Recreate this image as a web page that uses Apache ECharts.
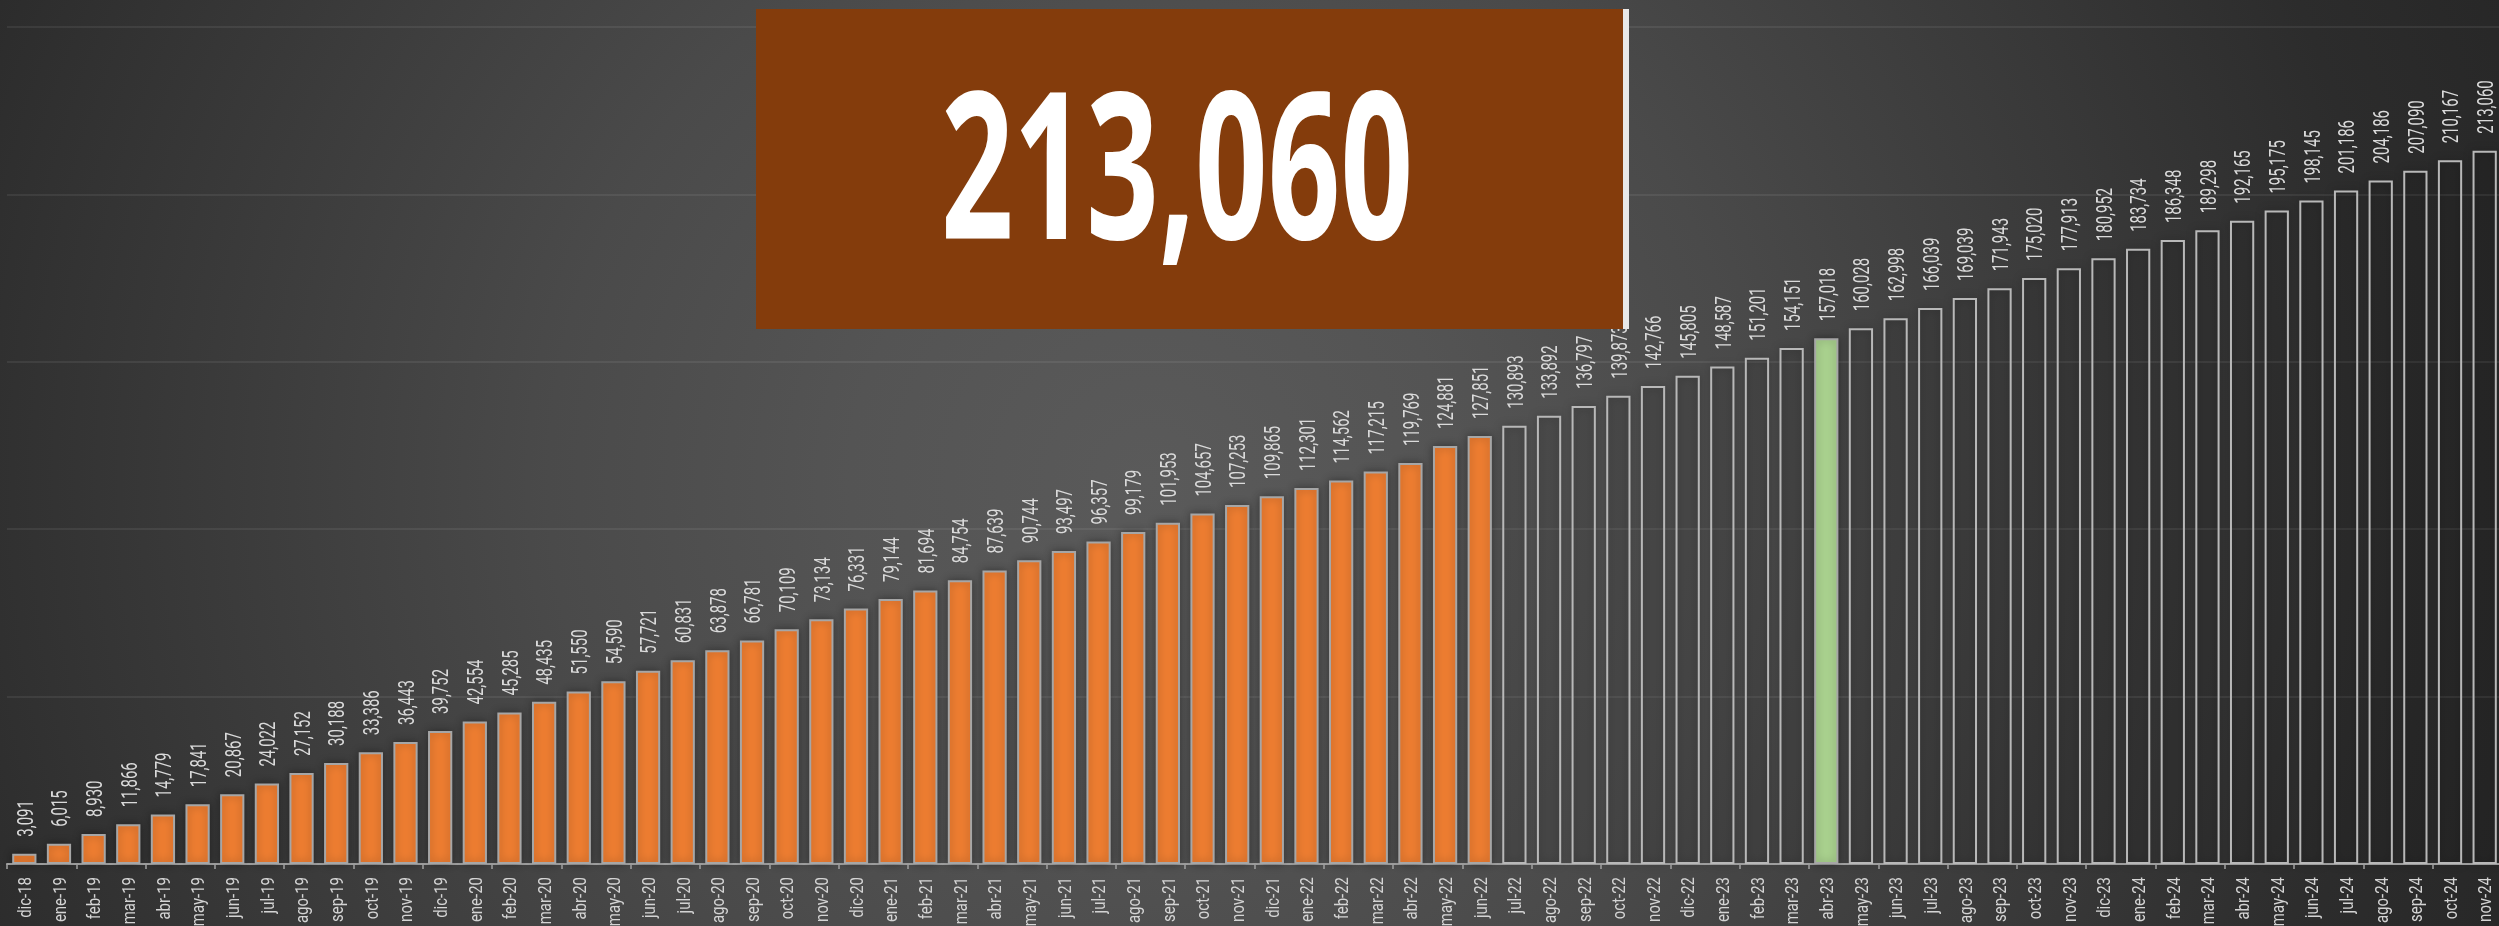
<!DOCTYPE html>
<html>
<head>
<meta charset="utf-8">
<script src="https://cdn.jsdelivr.net/npm/echarts@6/dist/echarts.min.js"></script>
<style>
html,body{margin:0;padding:0;background:#333;}
#chart{width:2499px;height:926px;}
</style>
</head>
<body>
<div id="chart"></div>
<script>
const categories = [
 'dic-18',
 'ene-19','feb-19','mar-19','abr-19','may-19','jun-19','jul-19','ago-19','sep-19','oct-19','nov-19','dic-19',
 'ene-20','feb-20','mar-20','abr-20','may-20','jun-20','jul-20','ago-20','sep-20','oct-20','nov-20','dic-20',
 'ene-21','feb-21','mar-21','abr-21','may-21','jun-21','jul-21','ago-21','sep-21','oct-21','nov-21','dic-21',
 'ene-22','feb-22','mar-22','abr-22','may-22','jun-22','jul-22','ago-22','sep-22','oct-22','nov-22','dic-22',
 'ene-23','feb-23','mar-23','abr-23','may-23','jun-23','jul-23','ago-23','sep-23','oct-23','nov-23','dic-23',
 'ene-24','feb-24','mar-24','abr-24','may-24','jun-24','jul-24','ago-24','sep-24','oct-24','nov-24'
];
const values = [
 3091,
 6015, 8930, 11866, 14779, 17841, 20867, 24022, 27152, 30188, 33386, 36443, 39752,
 42554, 45285, 48435, 51550, 54590, 57721, 60831, 63878, 66781, 70109, 73134, 76331,
 79144, 81694, 84754, 87639, 90744, 93497, 96357, 99179, 101953, 104657, 107253, 109865,
 112301, 114562, 117215, 119769, 124881, 127851, 130893, 133892, 136797, 139873, 142766, 145805,
 148587, 151201, 154151, 157018, 160028, 162998, 166039, 169039, 171943, 175020, 177913, 180952,
 183734, 186348, 189298, 192165, 195175, 198145, 201186, 204186, 207090, 210167, 213060
];
const lastActual = 'jun-22';
const highlighted = 'abr-23';
const yTicks = [0, 50000, 100000, 150000, 200000, 250000];

const fmt = v => String(v).replace(/\B(?=(\d{3})+(?!\d))/g, ',');
const cutIdx = categories.indexOf(lastActual);

// ---- text metrics: emulate the tall, narrow label typeface by compressing a normal font ----
const mctx = document.createElement('canvas').getContext('2d');
function measure(font, txt) {
  mctx.font = font;
  mctx.textBaseline = 'middle';
  const m = mctx.measureText(txt);
  return {w: m.width, asc: m.actualBoundingBoxAscent, desc: m.actualBoundingBoxDescent};
}
const LFAM = 'Roboto, "DejaVu Sans", sans-serif';
const BFAM = '"Noto Sans", "DejaVu Sans", sans-serif';
const d100 = measure('100px ' + LFAM, '213060');
const digitH = (d100.asc + d100.desc) / 100;
// value labels: digits ~17px tall, "33,386" ~45px long
const valSize = 17 / digitH;
const valSX = 45 / measure(valSize + 'px ' + LFAM, '33,386').w;
const valOff = (d100.desc - d100.asc) / 2 * valSize / 100;
// axis labels: digits ~14px tall, "sep-22" ~45px long
const axSize = 14 / digitH;
const axSX = 45 / measure(axSize + 'px ' + LFAM, 'sep-22').w;
const axOff = (d100.desc - d100.asc) / 2 * axSize / 100;
// big number: digits 151px tall, 472px wide, centred at (1177,165.5)
const bigText = fmt(values[values.length - 1]);
const b100 = measure('bold 100px ' + BFAM, '213060');
const bigSize = 151 / ((b100.asc + b100.desc) / 100);
const bigSX = 472 / measure('bold ' + bigSize + 'px ' + BFAM, bigText).w;
const bigOff = (b100.desc - b100.asc) / 2 * bigSize / 100;

const barData = values.map((v, i) => {
  let itemStyle;
  if (categories[i] === highlighted) {
    itemStyle = {color: '#a9d18e', borderColor: '#a6a6a6', borderWidth: 2};
  } else if (i <= cutIdx) {
    itemStyle = {color: '#ed7d31', borderColor: '#a6a6a6', borderWidth: 2};
  } else {
    itemStyle = {color: 'rgba(0,0,0,0.06)', borderColor: '#b8b8b8', borderWidth: 2};
  }
  return {value: v, itemStyle};
});
const valueLabelData = values.map((v, i) => [categories[i], v]);
const axisLabelData = categories.map(c => [c, 0]);

const chart = echarts.init(document.getElementById('chart'), null, {renderer: 'canvas'});
chart.setOption({
  backgroundColor: 'transparent',
  animation: false,
  grid: {left: 7, right: -3, top: 27, bottom: 62, containLabel: false, outerBoundsMode: 'none'},
  xAxis: {
    type: 'category',
    data: categories,
    axisLine: {show: true, lineStyle: {color: '#a6a6a6', width: 2}},
    axisTick: {show: true, length: 5, lineStyle: {color: '#a6a6a6', width: 1.5}},
    axisLabel: {show: false}
  },
  yAxis: {
    type: 'value',
    min: yTicks[0], max: yTicks[yTicks.length - 1], interval: yTicks[1] - yTicks[0],
    axisLabel: {show: false},
    axisLine: {show: false},
    axisTick: {show: false},
    splitLine: {show: true, lineStyle: {color: 'rgba(255,255,255,0.07)', width: 2}}
  },
  series: [
    {
      type: 'bar',
      data: barData,
      barWidth: '70%',
      itemStyle: {shadowBlur: 8, shadowColor: 'rgba(0,0,0,0.35)'}
    },
    {
      // value labels above each bar
      type: 'custom',
      silent: true, clip: false, z: 5,
      data: valueLabelData,
      encode: {x: 0, y: 1},
      renderItem: (params, api) => {
        const v = api.value(1);
        const p = api.coord([api.value(0), v]);
        return {
          type: 'text',
          x: p[0] - valOff, y: p[1] - 17,
          rotation: Math.PI / 2,
          scaleX: valSX,
          style: {
            text: fmt(v), fill: '#dadada',
            font: valSize.toFixed(2) + 'px ' + LFAM,
            align: 'left', verticalAlign: 'middle',
            textAlign: 'left', textVerticalAlign: 'middle'
          }
        };
      }
    },
    {
      // category labels under the axis
      type: 'custom',
      silent: true, clip: false, z: 5,
      data: axisLabelData,
      encode: {x: 0, y: 1},
      renderItem: (params, api) => {
        const idx = api.value(0);
        const p = api.coord([idx, api.value(1)]);
        return {
          type: 'text',
          x: p[0] - axOff, y: p[1] + 13,
          rotation: Math.PI / 2,
          scaleX: axSX,
          style: {
            text: categories[idx], fill: '#d4d4d4',
            font: axSize.toFixed(2) + 'px ' + LFAM,
            align: 'right', verticalAlign: 'middle',
            textAlign: 'right', textVerticalAlign: 'middle'
          }
        };
      }
    }
  ],
  graphic: [
    {
      type: 'rect', z: -100, silent: true,
      shape: {x: 0, y: 0, width: 2499, height: 926},
      style: {
        fill: new echarts.graphic.RadialGradient(0.46, 0.52, 1.62, [
          {offset: 0, color: '#5a5a5a'},
          {offset: 0.2, color: '#545454'},
          {offset: 0.4, color: '#4a4a4a'},
          {offset: 0.6, color: '#3c3c3c'},
          {offset: 0.83, color: '#2c2c2c'},
          {offset: 1, color: '#262626'}
        ])
      }
    },
    {
      type: 'rect', z: 100, silent: true,
      shape: {x: 756, y: 9, width: 867, height: 320},
      style: {fill: '#843c0c'}
    },
    {
      type: 'rect', z: 100, silent: true,
      shape: {x: 1623, y: 9, width: 6, height: 320},
      style: {fill: '#e8e8e8'}
    },
    {
      type: 'text', z: 101, silent: true,
      x: 1177, y: 165.5 - bigOff, scaleX: bigSX,
      style: {
        text: bigText,
        fill: '#ffffff',
        font: 'bold ' + bigSize.toFixed(1) + 'px ' + BFAM,
        textAlign: 'center',
        textVerticalAlign: 'middle'
      }
    }
  ]
});
</script>
</body>
</html>
